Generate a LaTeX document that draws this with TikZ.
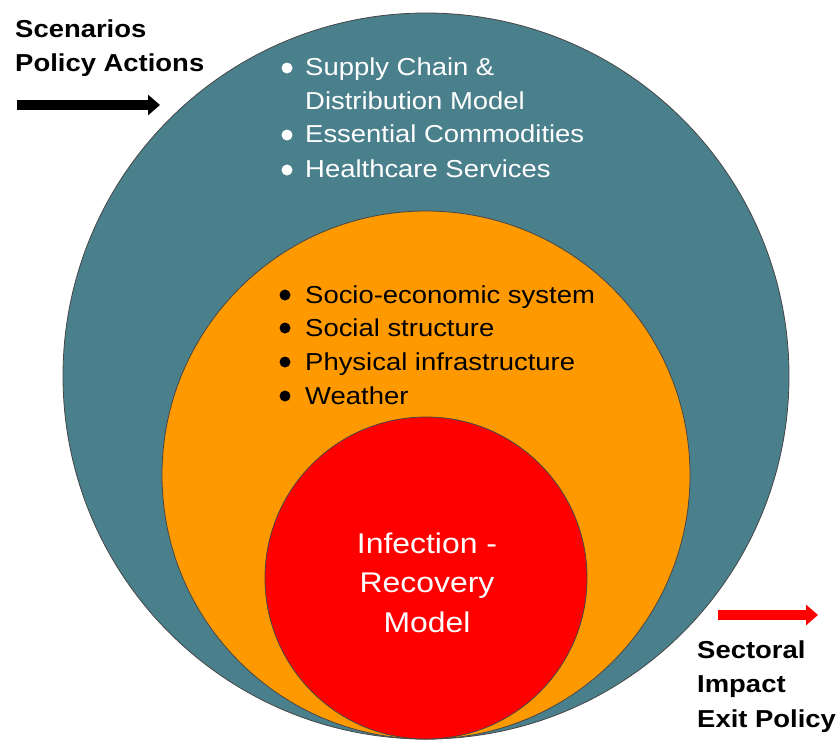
\documentclass[tikz,border=0pt]{standalone}
\usepackage{fontspec}
\setmainfont{Liberation Sans}[FakeStretch=1.12]
\usetikzlibrary{arrows.meta}

\definecolor{ringteal}{RGB}{74,128,140}
\definecolor{ringorange}{RGB}{255,153,0}
\definecolor{ringred}{RGB}{255,0,0}

\begin{document}
\begin{tikzpicture}[x=1pt, y=-1pt,
    ring/.style={draw=gray!55!black, line width=0.8pt},
    txt/.style={inner sep=0pt, anchor=base west, font=\fontsize{24.5}{30}\selectfont},
    lbl/.style={txt, font=\fontsize{24.5}{30}\selectfont\bfseries},
    mid/.style={txt, anchor=base, text=white, font=\fontsize{28.5}{34}\selectfont},
    flow/.style={line width=10pt, -{Triangle[width=20pt, length=12pt]}}]
    \useasboundingbox (0,0) rectangle (840,740);

    % nested rings, all touching at the bottom
    \filldraw[ring, fill=ringteal] (426,376) circle (363pt);
    \filldraw[ring, fill=ringorange] (426,475) circle (264pt);
    \filldraw[ring, fill=ringred] (426,578) circle (161pt);

    % outer ring list
    \foreach \y in {68,135,170} \fill[white] (287,\y) circle (5.5pt);
    \node[txt, text=white] (sc1) at (305,75) {Supply Chain \&};
    \node[txt, text=white] (sc2) at (305,109) {Distribution Model};
    \node[txt, text=white] (ec) at (305,142) {Essential Commodities};
    \node[txt, text=white] (hc) at (305,177) {Healthcare Services};

    % middle ring list
    \foreach \y in {295,328,362,396} \fill (285,\y) circle (5.5pt);
    \node[txt] (se) at (305,303) {Socio-economic system};
    \node[txt] (ss) at (305,336) {Social structure};
    \node[txt] (pi) at (305,370) {Physical infrastructure};
    \node[txt] (we) at (305,404) {Weather};

    % core
    \node[mid] (inf) at (427,553) {Infection -};
    \node[mid] (rec) at (427,592) {Recovery};
    \node[mid] (mod) at (427,632) {Model};

    % inputs
    \node[lbl] (scn) at (15,37) {Scenarios};
    \node[lbl] (pol) at (15,71) {Policy Actions};
    \coordinate (inA) at (17,105);
    \coordinate (inB) at (160,105);
    \draw[flow, black] (inA) -- (inB);

    % outputs
    \coordinate (outA) at (718,615);
    \coordinate (outB) at (818,615);
    \draw[flow, ringred] (outA) -- (outB);
    \node[lbl] (sec) at (697,658) {Sectoral};
    \node[lbl] (imp) at (697,692) {Impact};
    \node[lbl] (exi) at (697,727) {Exit Policy};
\end{tikzpicture}
\end{document}
